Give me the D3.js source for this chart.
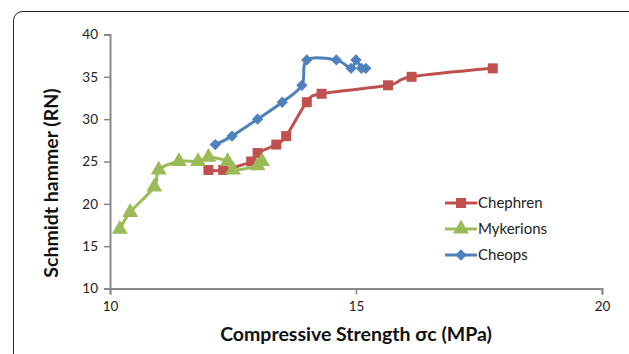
<!DOCTYPE html>
<html lang="en">
<head>
	<meta charset="UTF-8">
	<title>Schmidt hammer vs compressive strength</title>
	<script src="https://d3js.org/d3.v7.min.js" charset="utf-8"></script>
	<style>
		body { margin: 0; background: #fff; }
		text { font-family: Lato, "Open Sans", sans-serif; }
	</style>
</head>
<body>
	<svg></svg>
	<script>
		// data
		const seriesNames = ['Chephren', 'Mykerions', 'Cheops']
		const seriesColors = ['#C0504D', '#9BBB59', '#4F81BD']
		const chephrenX = [12.0, 12.3, 12.87, 13.0, 13.38, 13.58, 14.0, 14.3, 15.65, 16.13, 17.78]
		const chephrenY = [24, 24, 25, 26, 27, 28, 32, 33, 34, 35, 36]
		const mykerionsX = [10.2, 10.41, 10.9, 10.99, 11.4, 11.79, 12.0, 12.39, 12.5, 13.0, 13.09]
		const mykerionsY = [17, 19, 22, 24, 25, 25, 25.5, 25, 24, 24.5, 25]
		const cheopsX = [12.14, 12.48, 13.0, 13.5, 13.9, 14.0, 14.6, 14.9, 15.0, 15.11, 15.2]
		const cheopsY = [27, 28, 30, 32, 34, 37, 37, 36, 37, 36, 36]
		const xTicks = [10, 15, 20]
		const yTicks = [10, 15, 20, 25, 30, 35, 40]

		const series = [
			chephrenX.map((x, i) => ({ x, y: chephrenY[i] })),
			mykerionsX.map((x, i) => ({ x, y: mykerionsY[i] })),
			cheopsX.map((x, i) => ({ x, y: cheopsY[i] }))
		]

		let svg = d3.select('svg')
			.attr('width', 629)
			.attr('height', 354)

		// outer frame, runs off the right and bottom edges
		svg.append('rect')
			.attr('x', 13.5).attr('y', 11.5)
			.attr('width', 640).attr('height', 360)
			.attr('rx', 9)
			.attr('fill', 'none')
			.attr('stroke', '#222')
			.attr('stroke-width', 1)

		let x = d3.scaleLinear().domain([10, 20]).range([110, 602])
		let y = d3.scaleLinear().domain([10, 40]).range([288.5, 34.5])

		let xAxis = svg.append('g')
			.attr('transform', 'translate(0,288.5)')
			.call(d3.axisBottom(x).tickValues(xTicks).tickSizeOuter(0).tickSize(6).tickPadding(7))
		let yAxis = svg.append('g')
			.attr('transform', 'translate(110,0)')
			.call(d3.axisLeft(y).tickValues(yTicks).tickSizeOuter(0).tickSize(6).tickPadding(6))

		for (let ax of [xAxis, yAxis]) {
			ax.select('.domain').attr('stroke', '#878787').attr('stroke-width', 2)
			ax.selectAll('.tick line').attr('stroke', '#878787').attr('stroke-width', 1.5)
			ax.selectAll('.tick text')
				.attr('fill', '#222')
				.style('font-size', '13.5px')
		}

		let line = d3.line()
			.x(d => x(d.x))
			.y(d => y(d.y))
			.curve(d3.curveCardinal.tension(0))

		// square, triangle, and a square turned 45 degrees for the diamond
		let symbols = [d3.symbolSquare, d3.symbolTriangle, d3.symbolSquare]
		let sizes = [100, 110, 64]
		let rotations = [0, 0, 45]

		series.forEach((pts, i) => {
			svg.append('path')
				.datum(pts)
				.attr('d', line)
				.attr('fill', 'none')
				.attr('stroke', seriesColors[i])
				.attr('stroke-width', 3)

			svg.append('g')
				.selectAll('path')
				.data(pts)
				.join('path')
				.attr('transform', d => `translate(${x(d.x)},${y(d.y)}) rotate(${rotations[i]})`)
				.attr('d', d3.symbol(symbols[i], sizes[i]))
				.attr('fill', seriesColors[i])
		})

		// legend
		let legend = svg.append('g')
			.selectAll('g')
			.data(seriesNames)
			.join('g')
			.attr('transform', (d, i) => `translate(445,${203 + i * 26})`)

		legend.append('line')
			.attr('x1', 0).attr('x2', 32)
			.attr('stroke', (d, i) => seriesColors[i])
			.attr('stroke-width', 3)
		legend.append('path')
			.attr('transform', (d, i) => `translate(16,0) rotate(${rotations[i]})`)
			.attr('d', (d, i) => d3.symbol(symbols[i], sizes[i])())
			.attr('fill', (d, i) => seriesColors[i])
		legend.append('text')
			.attr('x', 33)
			.attr('dy', '0.35em')
			.attr('fill', '#222')
			.style('font-size', '15px')
			.text(d => d)

		// axis titles
		svg.append('text')
			.attr('x', 356).attr('y', 341)
			.attr('text-anchor', 'middle')
			.style('font-size', '19.5px')
			.style('font-weight', 'bold')
			.attr('fill', '#111')
			.text('Compressive Strength σc (MPa)')

		svg.append('text')
			.attr('transform', 'translate(58,183) rotate(-90)')
			.attr('text-anchor', 'middle')
			.style('font-size', '19.5px')
			.style('font-weight', 'bold')
			.attr('fill', '#111')
			.text('Schmidt hammer (RN)')
	</script>
</body>
</html>
